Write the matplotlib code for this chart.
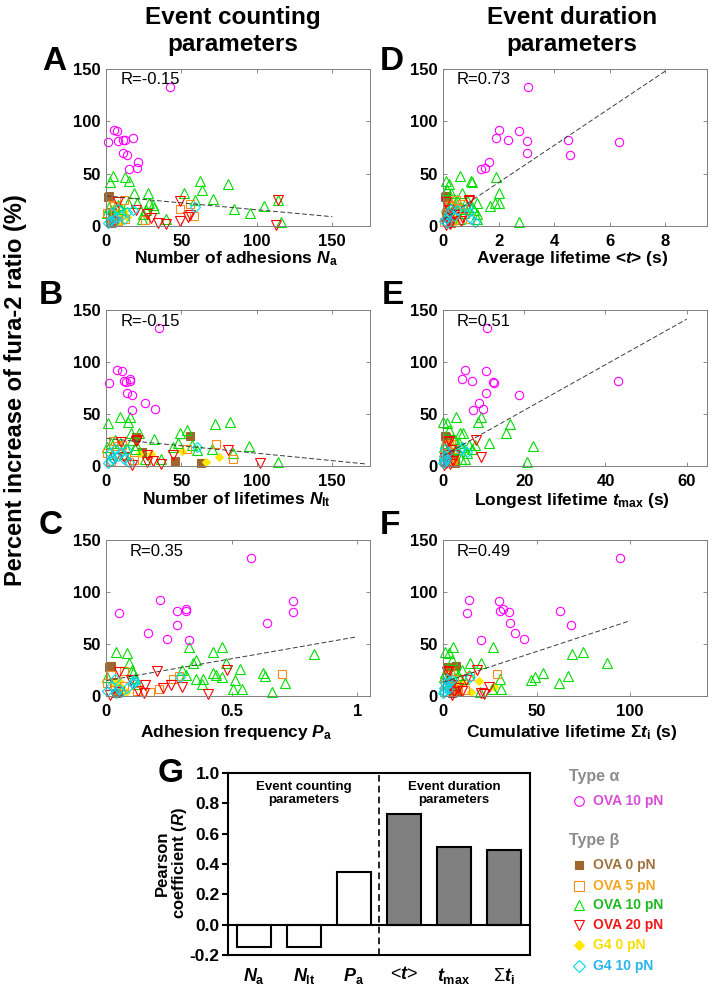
import matplotlib
matplotlib.use('Agg')
import matplotlib.pyplot as plt

plt.rcParams['font.family'] = ['Liberation Sans', 'DejaVu Sans']
plt.rcParams['mathtext.fontset'] = 'custom'
plt.rcParams['mathtext.rm'] = 'Liberation Sans:bold'
plt.rcParams['mathtext.it'] = 'Liberation Sans:italic:bold'
plt.rcParams['mathtext.bf'] = 'Liberation Sans:bold'

# ---------------- data ----------------
# y values (percent increase of fura-2 ratio) per group
y_ova10_alpha = [133, 92, 91, 84, 82, 82, 81, 80, 70, 68, 61, 55, 54]
y_ova0 = [29, 28, 13, 5, 3]
y_ova5 = [24.4, 20.8, 20, 19.2, 16, 12.8, 9.6, 6.4, 5.8, 5, 4]
y_ova10_beta = [47.4, 46.8, 42.6, 42.6, 41.7, 40, 34.6, 32, 31.4, 31.4, 26, 25, 25, 22.4, 21.8,
                21.8, 20, 20, 19.2, 18.6, 18.6, 17, 16.7, 16, 15.4, 12.8, 12, 11.5, 7, 6.4, 4]
y_ova20 = [25, 24, 23, 15, 11, 10.5, 9, 7.4, 5, 4, 2.6, 1.5, 1]
y_g4_0 = [14, 12.5, 11.5, 9, 4]
y_g4_10 = [18.6, 16, 15.4, 13.8, 12.2, 10, 7.4, 6.4, 5, 4, 2.6]

# x values: number of adhesions Na
Na_ova10_alpha = [42.7, 5, 7, 18, 11.5, 12.3, 8, 1, 11, 14, 21, 20.7, 15.4]
Na_ova0 = [2, 1, 4, 6, 3]
Na_ova5 = [11.9, 56, 2.6, 5, 49, 0.4, 58.6, 12.8, 25.8, 8, 4]
Na_ova10_beta = [4.4, 12.8, 62.6, 15.4, 2.6, 81, 63.7, 51.5, 18.5, 27.8, 71, 114, 59, 20.3, 14.5,
                 28.6, 31, 8, 105, 1.8, 6, 32, 10, 85, 26.4, 95.6, 0.9, 24.7, 23.8, 39.6, 116.3]
Na_ova20 = [114, 49, 8, 20, 26.9, 55.5, 54.4, 30, 49, 6, 34.6, 40, 112.5]
Na_g4_0 = [12, 8, 10, 14, 9]
Na_g4_10 = [59, 8, 18, 14, 3, 10, 6, 12, 2.6, 5, 1]

# number of lifetimes Nlt
Nlt_ova10_alpha = [35, 7.5, 10.5, 16, 12, 16, 13, 2, 13.6, 17, 26, 32.6, 17]
Nlt_ova0 = [55.5, 20, 23.6, 45.6, 63]
Nlt_ova5 = [4.8, 73, 10.4, 7, 54, 0.9, 13.2, 84, 18.5, 3, 15]
Nlt_ova10_beta = [9.6, 15.7, 82, 14.3, 1.5, 72, 54, 49, 22, 16.7, 32, 5.9, 17, 48, 9.6,
                  3, 57, 20, 95, 0.9, 44.6, 13.5, 19, 70, 60, 84, 4, 12, 36.7, 26, 114]
Nlt_ova20 = [20.3, 19.8, 10, 80.8, 44.5, 27, 12, 6, 31, 27, 101.8, 36.3, 17]
Nlt_g4_0 = [50.7, 22.5, 30, 75, 66.5]
Nlt_g4_10 = [60, 6, 14, 10, 2.6, 8, 4, 12, 3, 15, 1]

# adhesion frequency Pa
Pa_ova10_alpha = [0.577, 0.214, 0.742, 0.32, 0.317, 0.281, 0.742, 0.053, 0.642, 0.283, 0.166, 0.243, 0.329]
Pa_ova0 = [0.02, 0.01, 0.03, 0.05, 0.04]
Pa_ova5 = [0.073, 0.7, 0.02, 0.29, 0.267, 0.005, 0.07, 0.209, 0.036, 0.125, 0.174]
Pa_ova10_beta = [0.329, 0.463, 0.038, 0.425, 0.085, 0.828, 0.357, 0.346, 0.092, 0.478, 0.531, 0.102,
                 0.304, 0.425, 0.108, 0.626, 0.439, 0.32, 0.631, 0.005, 0.462, 0.115, 0.357, 0.386,
                 0.515, 0.713, 0.383, 0.122, 0.504, 0.54, 0.66]
Pa_ova20 = [0.483, 0.203, 0.05, 0.1, 0.157, 0.26, 0.302, 0.227, 0.128, 0.05, 0.15, 0.405, 0.016]
Pa_g4_0 = [0.05, 0.03, 0.04, 0.06, 0.08]
Pa_g4_10 = [0.293, 0.036, 0.11, 0.115, 0.106, 0.02, 0.082, 0.053, 0.005, 0.06, 0.04]

# average lifetime <t> (s)
tavg_ova10_alpha = [3.05, 2.02, 2.72, 1.91, 2.33, 4.49, 3.01, 6.33, 3.01, 4.58, 1.67, 1.52, 1.38]
tavg_ova0 = [0.1, 0.08, 0.15, 0.25, 0.3]
tavg_ova5 = [0.48, 0.7, 0.3, 0.2, 0.6, 0.1, 0.15, 0.98, 0.4, 0.25, 0.05]
tavg_ova10_beta = [0.6, 1.9, 0.1, 1.0, 1.06, 0.2, 0.14, 0.3, 0.7, 2.0, 0.4, 0.86, 0.5, 1.88, 1.22,
                   2.0, 0.44, 0.3, 1.7, 0.1, 1.04, 0.56, 0.8, 0.9, 1.1, 0.75, 0.2, 1.23, 0.6, 1.21, 2.74]
tavg_ova20 = [0.95, 0.92, 0.1, 0.2, 0.3, 0.4, 0.7, 0.15, 0.66, 0.3, 0.2, 0.25, 0.12]
tavg_g4_0 = [0.3, 0.2, 0.25, 0.35, 0.4]
tavg_g4_10 = [0.9, 0.3, 0.5, 0.95, 0.2, 0.4, 0.1, 1.0, 0.05, 1.16, 0.15]

# longest lifetime tmax (s)
tmax_ova10_alpha = [10.9, 5.3, 10.6, 4.6, 7.1, 43.2, 12.4, 12.6, 10.6, 18.8, 8.8, 9.9, 7.3]
tmax_ova0 = [0.5, 0.8, 1.5, 2, 3]
tmax_ova5 = [1.5, 2, 0.8, 1, 3, 0.5, 0.3, 1.2, 2.5, 0.6, 0.2]
tmax_ova10_beta = [9.3, 3.3, 0.1, 8.7, 1.06, 16.4, 1.6, 4.2, 15.6, 5, 2.5, 0.8, 3, 11.3, 4,
                   0.5, 6.4, 8, 22.2, 0.2, 4.8, 1.5, 3.5, 7.1, 3, 6, 0.3, 2, 5.5, 4.5, 20.8]
tmax_ova20 = [8.1, 1.5, 1, 2, 3, 1.2, 9.4, 0.5, 2.5, 1, 0.8, 1.8, 0.3]
tmax_g4_0 = [2, 1.5, 1, 3, 2.5]
tmax_g4_10 = [4.6, 0.5, 4.2, 5.9, 1, 0.3, 0.8, 0.4, 0.2, 0.6, 0.1]

# cumulative lifetime sum ti (s)
tsum_ova10_alpha = [94.3, 14, 30, 31.9, 30.4, 62.6, 35, 12.8, 36, 68.3, 38.3, 43, 20.5]
tsum_ova0 = [6.9, 2, 4, 8, 5]
tsum_ova5 = [4, 28.8, 2, 14.6, 6, 1, 3, 8, 11.7, 5, 0.5]
tsum_ova10_beta = [5.3, 26.5, 0.9, 74.6, 3, 68.9, 4.8, 14.6, 87.5, 20.5, 2, 6, 10, 53.4, 4.8,
                   1, 13.7, 8, 67, 0.5, 49, 3, 30.4, 11, 47, 61.7, 1.6, 5, 30.8, 26.2, 20]
tsum_ova20 = [18.1, 3, 2, 12.5, 5, 4, 24.4, 8, 10, 6, 20.5, 22, 4.8]
tsum_g4_0 = [19.4, 10, 8, 27, 15]
tsum_g4_10 = [14.2, 2, 5, 3, 1, 1.5, 0.5, 2.5, 0.3, 0.8, 0.2]

# Pearson coefficients and linear fits (intercept, slope, x-end)
param_labels = ['$N_\\mathrm{a}$', '$N_\\mathrm{lt}$', '$P_\\mathrm{a}$', '<$t$>',
                '$t_\\mathrm{max}$', '\u03a3$t_\\mathrm{i}$']
r_values = [-0.15, -0.15, 0.35, 0.73, 0.51, 0.49]
fit_intercept = [28.7, 26.6, 14.7, 6.0, 9.8, 13.2]
fit_slope = [-0.132, -0.143, 42.3, 17.75, 2.19, 0.592]
fit_xend = [150, 172, 1.0, 8, 60, 100]

group_names = ['OVA 10 pN', 'OVA 0 pN', 'OVA 5 pN', 'OVA 10 pN', 'OVA 20 pN', 'G4 0 pN', 'G4 10 pN']
y_groups = [y_ova10_alpha, y_ova0, y_ova5, y_ova10_beta, y_ova20, y_g4_0, y_g4_10]
x_panels = [
    [Na_ova10_alpha, Na_ova0, Na_ova5, Na_ova10_beta, Na_ova20, Na_g4_0, Na_g4_10],
    [Nlt_ova10_alpha, Nlt_ova0, Nlt_ova5, Nlt_ova10_beta, Nlt_ova20, Nlt_g4_0, Nlt_g4_10],
    [Pa_ova10_alpha, Pa_ova0, Pa_ova5, Pa_ova10_beta, Pa_ova20, Pa_g4_0, Pa_g4_10],
    [tavg_ova10_alpha, tavg_ova0, tavg_ova5, tavg_ova10_beta, tavg_ova20, tavg_g4_0, tavg_g4_10],
    [tmax_ova10_alpha, tmax_ova0, tmax_ova5, tmax_ova10_beta, tmax_ova20, tmax_g4_0, tmax_g4_10],
    [tsum_ova10_alpha, tsum_ova0, tsum_ova5, tsum_ova10_beta, tsum_ova20, tsum_g4_0, tsum_g4_10],
]

# ---------------- styles ----------------
W, H = 714, 992
styles = [
    dict(marker='o', mfc='none', mec='#FF00FF', ms=6, mew=0.8),
    dict(marker='s', mfc='#A0642D', mec='#A0642D', ms=5.5, mew=0.8),
    dict(marker='s', mfc='none', mec='#FF8C1A', ms=6, mew=0.8),
    dict(marker='^', mfc='none', mec='#00DD00', ms=6.5, mew=0.8),
    dict(marker='v', mfc='none', mec='#FF0000', ms=6.5, mew=0.8),
    dict(marker='D', mfc='#FFE800', mec='#FFE800', ms=4.5, mew=0.8),
    dict(marker='D', mfc='none', mec='#00D8EE', ms=5, mew=0.8),
]
draw_order = [1, 5, 3, 2, 4, 6, 0]
legend_text_colors = ['#D84CD8', '#A0703C', '#F5A623', '#1FB81F', '#F01818', '#F5E000', '#28B4EC']

fig = plt.figure(figsize=(W / 100, H / 100), dpi=100)


def box(l, t, r, b):
    return [l / W, 1 - b / H, (r - l) / W, (b - t) / H]


def ftext(x, y, s, **kw):
    fig.text(x / W, 1 - y / H, s, **kw)


panel_boxes = [box(106, 69, 370, 226), box(106, 310, 370, 466), box(106, 540, 370, 696),
               box(443, 69, 707, 226), box(443, 310, 707, 466), box(443, 540, 707, 696)]
xlims = [(0, 175), (0, 175), (0, 1.05), (0, 9.5), (0, 65), (0, 141)]
xticks = [[0, 50, 100, 150], [0, 50, 100, 150], [0, 0.5, 1], [0, 2, 4, 6, 8], [0, 20, 40, 60], [0, 50, 100]]
xticklabels = [['0', '50', '100', '150'], ['0', '50', '100', '150'], ['0', '0.5', '1'],
               ['0', '2', '4', '6', '8'], ['0', '20', '40', '60'], ['0', '50', '100']]
xlabels = ['Number of adhesions $N_\\mathrm{a}$', 'Number of lifetimes $N_\\mathrm{lt}$',
           'Adhesion frequency $P_\\mathrm{a}$', 'Average lifetime <$t$> (s)',
           'Longest lifetime $t_\\mathrm{max}$ (s)', 'Cumulative lifetime \u03a3$t_\\mathrm{i}$ (s)']
xlabel_pos = [(236, 259), (236, 500), (236, 732), (572, 259), (572, 500), (572, 732)]
letters = ['A', 'B', 'C', 'D', 'E', 'F']
letter_pos = [(54, 61), (51, 295), (51, 525), (392, 61), (393, 295), (390, 525)]
rtext_pos = [(121, 80), (121, 322), (130, 552), (457, 80), (457, 322), (457, 552)]

for i in range(6):
    ax = fig.add_axes(panel_boxes[i])
    for g in draw_order:
        ax.plot(x_panels[i][g], y_groups[g], ls='none', clip_on=False, **styles[g])
    xe = fit_xend[i]
    ax.plot([0, xe], [fit_intercept[i], fit_intercept[i] + fit_slope[i] * xe],
            ls=(0, (5, 2.5)), color='#3a3a3a', lw=0.7)
    ax.set_xlim(*xlims[i])
    ax.set_ylim(0, 150)
    ax.set_xticks(xticks[i])
    ax.set_xticklabels(xticklabels[i])
    ax.set_yticks([0, 50, 100, 150])
    ax.tick_params(direction='in', length=3, width=0.6, color='#777777', top=True, right=True,
                   labelsize=12, pad=6)
    ax.tick_params(axis='y', pad=4)
    for lab in ax.get_xticklabels() + ax.get_yticklabels():
        lab.set_fontweight('bold')
    for sp in ax.spines.values():
        sp.set_color('#808080')
        sp.set_linewidth(0.7)
    ftext(*xlabel_pos[i], xlabels[i], ha='center', va='center', fontsize=12.5, fontweight='bold')
    ftext(*letter_pos[i], letters[i], ha='center', va='center', fontsize=24, fontweight='bold')
    ftext(*rtext_pos[i], 'R=%.2f' % r_values[i], ha='left', va='center', fontsize=12)

ftext(233, 31, 'Event counting\nparameters', ha='center', va='center', fontsize=17.5,
      fontweight='bold', linespacing=1.2)
ftext(572, 31, 'Event duration\nparameters', ha='center', va='center', fontsize=17.5,
      fontweight='bold', linespacing=1.2)
ftext(16, 390, 'Percent increase of fura-2 ratio (%)', ha='center', va='center', rotation=90,
      fontsize=17, fontweight='bold')

# ---------------- panel G ----------------
axg = fig.add_axes(box(228, 773, 530, 955))
xpos = list(range(len(r_values)))
bar_colors = ['white', 'white', 'white', '#808080', '#808080', '#808080']
axg.bar(xpos, r_values, width=0.67, color=bar_colors, edgecolor='black', linewidth=1.5, zorder=2)
axg.axhline(0, color='black', lw=1.5, zorder=3)
axg.axvline(2.5, color='black', lw=1.2, ls=(0, (4, 2.5)), zorder=1)
axg.set_xlim(-0.52, 5.52)
axg.set_ylim(-0.2, 1.0)
axg.set_yticks([-0.2, 0.0, 0.2, 0.4, 0.6, 0.8, 1.0])
axg.set_yticklabels(['-0.2', '0.0', '0.2', '0.4', '0.6', '0.8', '1.0'])
axg.set_xticks(xpos)
axg.set_xticklabels(param_labels)
axg.tick_params(axis='y', direction='out', length=4, width=1.5, labelsize=12.5, pad=2)
axg.tick_params(axis='x', length=0, labelsize=13, pad=8)
for lab in axg.get_yticklabels():
    lab.set_fontweight('bold')
for sp in axg.spines.values():
    sp.set_linewidth(1.5)
axg.text(1.0, 0.865, 'Event counting\nparameters', ha='center', va='center', fontsize=9.5,
         fontweight='bold', linespacing=1.1)
axg.text(4.0, 0.865, 'Event duration\nparameters', ha='center', va='center', fontsize=9.5,
         fontweight='bold', linespacing=1.1)
ftext(172, 863, 'Pearson\ncoefficient ($R$)', ha='center', va='center', rotation=90,
      fontsize=12, fontweight='bold', linespacing=1.0)
ftext(171, 774, 'G', ha='center', va='center', fontsize=24, fontweight='bold')

# ---------------- legend ----------------
lax = fig.add_axes([0, 0, 1, 1])
lax.set_xlim(0, W)
lax.set_ylim(H, 0)
lax.axis('off')
header_color = '#8C8C8C'
ftext(569, 777, 'Type \u03b1', ha='left', va='center', fontsize=11.5, fontweight='bold', color=header_color)
ftext(569, 840, 'Type \u03b2', ha='left', va='center', fontsize=11.5, fontweight='bold', color=header_color)
legend_rows = [801, 865, 886, 905, 925, 945, 966]
for g in range(len(group_names)):
    yy = legend_rows[g]
    st = dict(styles[g])
    st['ms'] = st['ms'] * 1.15
    lax.plot([579], [yy], ls='none', **st)
    ftext(593, yy, group_names[g], ha='left', va='center', fontsize=10, fontweight='bold',
          color=legend_text_colors[g])

fig.savefig('out.png', dpi=100)
